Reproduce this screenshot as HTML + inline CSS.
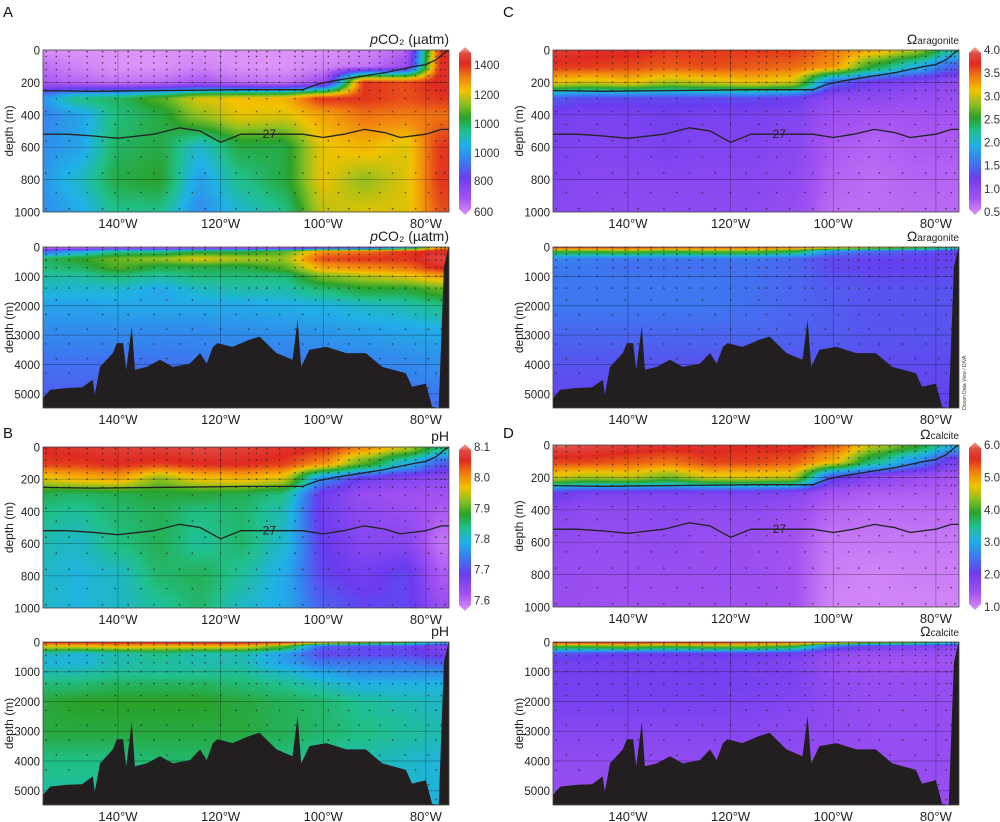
<!DOCTYPE html>
<html><head><meta charset="utf-8"><style>
html,body{margin:0;padding:0;background:#fff;}
#wrap{position:relative;width:1000px;height:822px;overflow:hidden;}
#wrap canvas{position:absolute;}
svg{position:absolute;left:0;top:0;display:block;font-family:"Liberation Sans",sans-serif;}
</style></head><body>
<div id="wrap">
<svg id="fig" width="1000" height="822" viewBox="0 0 1000 822" xmlns="http://www.w3.org/2000/svg"></svg>
</div>
<script>
// ---------- data ----------
const lons=[155,148,140,132,124,116,108,100,92,84,77];
const topDepths=[0,100,200,300,400,600,800,1000];
const botDepths=[0,150,400,700,1000,1500,2000,3000,4000,5500];

const aTop=[
[600,600,600,600,600,600,600,600,620,660,1400],
[650,620,600,600,620,600,600,620,640,700,1420],
[680,660,640,650,680,650,640,700,1400,1380,1420],
[930,1050,1080,1150,1250,1270,1280,1400,1400,1380,1400],
[900,950,1060,1100,1200,1260,1250,1300,1350,1340,1350],
[920,950,1080,1100,1000,1100,1100,1260,1280,1250,1400],
[930,1000,1100,1120,950,1050,1100,1260,1200,1250,1400],
[920,960,1050,1050,920,1000,1050,1230,1250,1250,1380]];
const aBot=[
[620,600,600,600,600,600,600,650,700,900,1300],
[850,950,1050,1050,1100,1100,1150,1320,1350,1400,1420],
[1080,1120,1170,1200,1250,1220,1200,1380,1400,1400,1450],
[1060,1080,1150,1100,1100,1100,1150,1300,1330,1350,1420],
[1030,1030,1060,1030,1060,1060,1060,1180,1220,1250,1300],
[990,990,990,960,1000,1020,1020,1060,1100,1100,1150],
[950,950,960,960,960,960,970,980,1000,1020,1050],
[910,910,910,910,910,915,920,930,940,950,960],
[870,870,870,875,880,880,885,890,900,910,920],
[840,840,840,840,845,850,850,860,860,870,870]];
const bTop=[
[8.05,8.06,8.07,8.07,8.08,8.07,8.06,8.05,8.0,7.95,7.85],
[8.04,8.04,8.05,8.04,8.05,8.05,8.04,8.0,7.9,7.8,7.72],
[7.95,7.97,7.98,7.92,7.96,7.97,7.95,7.75,7.68,7.66,7.65],
[7.86,7.85,7.86,7.87,7.87,7.86,7.84,7.68,7.64,7.63,7.63],
[7.84,7.83,7.85,7.86,7.84,7.85,7.82,7.68,7.65,7.64,7.62],
[7.82,7.81,7.84,7.86,7.83,7.85,7.81,7.69,7.66,7.66,7.6],
[7.81,7.8,7.81,7.85,7.86,7.83,7.79,7.7,7.68,7.7,7.62],
[7.81,7.8,7.81,7.83,7.85,7.81,7.79,7.72,7.7,7.7,7.64]];
const bBot=[
[8.05,8.06,8.06,8.07,8.07,8.07,8.06,8.0,7.95,7.9,7.8],
[7.95,7.95,7.97,7.96,7.96,7.96,7.9,7.72,7.7,7.7,7.66],
[7.82,7.8,7.82,7.84,7.82,7.82,7.78,7.7,7.7,7.7,7.68],
[7.8,7.8,7.82,7.83,7.82,7.82,7.78,7.74,7.74,7.74,7.72],
[7.82,7.82,7.83,7.83,7.83,7.83,7.81,7.78,7.76,7.76,7.76],
[7.85,7.85,7.86,7.86,7.86,7.85,7.84,7.82,7.8,7.8,7.8],
[7.87,7.88,7.88,7.88,7.88,7.87,7.86,7.85,7.83,7.82,7.81],
[7.87,7.87,7.87,7.87,7.87,7.87,7.86,7.85,7.84,7.83,7.82],
[7.84,7.84,7.84,7.85,7.85,7.85,7.84,7.83,7.82,7.81,7.8],
[7.82,7.82,7.82,7.82,7.82,7.82,7.82,7.82,7.82,7.8,7.8]];
const cTop=[
[3.8,3.7,3.7,3.6,3.6,3.6,3.6,3.4,3.2,2.9,2.2],
[3.6,3.6,3.55,3.5,3.55,3.5,3.45,3.3,2.5,2.0,1.5],
[3.1,3.0,3.1,2.9,3.0,3.1,3.0,1.5,1.2,1.1,1.0],
[1.45,1.35,1.35,1.35,1.35,1.35,1.25,1.0,1.0,0.95,0.95],
[1.2,1.15,1.15,1.2,1.15,1.15,1.1,0.9,0.85,0.85,0.85],
[1.15,1.1,1.1,1.15,1.1,1.1,1.05,0.8,0.75,0.8,0.8],
[1.1,1.05,1.05,1.05,1.05,1.05,1.0,0.75,0.7,0.75,0.75],
[1.05,1.05,1.0,1.0,1.0,1.0,0.95,0.7,0.7,0.72,0.72]];
const cBot=[
[3.7,3.7,3.7,3.6,3.6,3.6,3.5,3.3,3.1,2.9,2.5],
[2.6,2.6,2.7,2.6,2.7,2.7,2.5,1.7,1.5,1.4,1.3],
[1.7,1.65,1.6,1.6,1.6,1.6,1.5,1.35,1.3,1.3,1.3],
[1.6,1.6,1.55,1.55,1.55,1.55,1.5,1.35,1.3,1.3,1.3],
[1.6,1.6,1.6,1.6,1.6,1.55,1.5,1.4,1.35,1.35,1.35],
[1.6,1.6,1.6,1.6,1.6,1.55,1.5,1.45,1.4,1.4,1.4],
[1.6,1.6,1.6,1.6,1.6,1.55,1.5,1.45,1.4,1.4,1.4],
[1.5,1.5,1.5,1.5,1.5,1.5,1.48,1.45,1.4,1.4,1.4],
[1.4,1.4,1.4,1.4,1.4,1.4,1.4,1.4,1.35,1.35,1.35],
[1.3,1.3,1.3,1.3,1.3,1.3,1.3,1.3,1.3,1.3,1.3]];
const dTop=[
[5.9,5.8,5.7,5.6,5.6,5.5,5.6,5.3,4.5,4.0,3.2],
[5.4,5.4,5.3,5.2,5.4,5.4,5.3,4.8,3.6,2.8,2.0],
[4.6,4.4,4.5,4.2,4.6,4.6,4.5,2.2,1.8,1.6,1.5],
[2.1,1.9,1.9,1.9,1.9,1.9,1.8,1.5,1.4,1.4,1.4],
[1.8,1.7,1.7,1.75,1.7,1.7,1.6,1.35,1.3,1.3,1.3],
[1.7,1.65,1.65,1.7,1.6,1.6,1.5,1.2,1.2,1.2,1.2],
[1.65,1.6,1.6,1.6,1.6,1.6,1.5,1.15,1.1,1.15,1.15],
[1.6,1.6,1.55,1.55,1.55,1.55,1.5,1.1,1.1,1.1,1.1]];
const dBot=[
[5.7,5.7,5.7,5.6,5.6,5.5,5.4,5.0,4.5,4.2,3.5],
[4.0,4.0,4.2,4.0,4.2,4.2,3.9,2.4,2.0,1.9,1.8],
[2.3,2.2,2.1,2.1,2.1,2.1,2.0,1.7,1.6,1.6,1.6],
[2.0,2.0,1.95,1.95,1.95,1.95,1.85,1.6,1.5,1.5,1.5],
[2.0,2.0,2.0,2.0,2.0,1.95,1.9,1.65,1.6,1.6,1.6],
[2.0,2.0,2.0,2.0,2.0,1.95,1.9,1.7,1.65,1.65,1.65],
[1.95,1.95,1.95,1.95,1.95,1.9,1.85,1.7,1.65,1.65,1.65],
[1.8,1.8,1.8,1.8,1.8,1.8,1.75,1.7,1.65,1.65,1.65],
[1.7,1.7,1.7,1.7,1.7,1.7,1.7,1.65,1.65,1.65,1.65],
[1.6,1.6,1.6,1.6,1.6,1.6,1.6,1.6,1.6,1.6,1.6]];

const bathyLons=[155.5,154.6,153.2,149.9,147,144.9,144.5,143.5,141,140.2,139,138.4,137.3,136.7,134.4,131.8,129.3,126,124,122.7,121.5,120.6,117.7,114.4,112.4,109.1,106,105,104.3,102.7,99.4,95.5,91.7,88.5,83.9,82.7,80,78.8,77.5,76.5,75.6,75];
const bathyDepths=[5140,5140,4860,4800,4780,4520,5030,4080,3610,3270,3270,4180,2700,4180,4080,3840,4080,3970,3610,3970,3400,3270,3400,3160,3050,3610,3840,2480,4080,3500,3400,3610,3610,4080,4300,4760,4650,5440,5480,680,0,0];
const iso27Lons=[156,150,145,140,133,128,124,120,116,113,108,104,100,96,92,88,85,80,77,74];
const iso27Depths=[520,520,530,545,520,480,500,570,520,520,520,520,540,520,490,510,540,520,490,490];
const iso26Lons=[156,145,130,115,104,101,98,95,92,88,85,82,80,78,76.5,75.5];
const iso26Depths=[250,255,250,245,245,210,190,175,160,140,120,100,90,60,20,0];
const stationLons=[154,152,149.5,146,143,140.5,138,135.5,133,130.5,128,125.5,123,120,117,114.5,113,111,108.5,105.5,104,101.5,99,97,95,93,91,89,86.5,84,82,79.5,78,77,76.3];
const topDotDepths=[10,40,80,120,160,200,250,300,380,460,560,660,760,880,980];
const botDotDepths=[20,100,250,450,700,1000,1400,1800,2300,2800,3300,3800,4300,4800,5300];

const aTicks=["1400","1200","1000","1000","800","600"];
const aTickFrac=[0.907,0.722,0.543,0.364,0.191,0];
const bTicks=[8.1,8.0,7.9,7.8,7.7,7.6];
const cTicks=[4.0,3.5,3.0,2.5,2.0,1.5,1.0,0.5];
const dTicks=[6.0,5.0,4.0,3.0,2.0,1.0];
const lonTicks=[140,120,100,80];
const topDepthTicks=[0,200,400,600,800,1000];
const botDepthTicks=[0,1000,2000,3000,4000,5000];

// ---------- helpers ----------
const NS="http://www.w3.org/2000/svg";
const svg=document.getElementById('fig');
const wrap=document.getElementById('wrap');
function mk(tag,attrs,parent){const e=document.createElementNS(NS,tag);for(const k in attrs)e.setAttribute(k,attrs[k]);(parent||svg).appendChild(e);return e;}
const cmapStops=[[0,"#dc92f8"],[0.1,"#a452f2"],[0.22,"#6a3cf0"],[0.32,"#3a7cf0"],[0.42,"#1fb2e6"],[0.5,"#20c08a"],[0.58,"#2aa22a"],[0.66,"#8cc020"],[0.74,"#f2c200"],[0.82,"#f28010"],[0.9,"#e02a20"],[0.96,"#e24a44"],[1,"#f2b294"]];
function hex(h){return [parseInt(h.substr(1,2),16),parseInt(h.substr(3,2),16),parseInt(h.substr(5,2),16)];}
const stopRGB=cmapStops.map(s=>[s[0],hex(s[1])]);
function cmapRGB(t){t=Math.max(0,Math.min(1,t));for(let i=1;i<stopRGB.length;i++){if(t<=stopRGB[i][0]){const a=stopRGB[i-1],b=stopRGB[i];const f=(t-a[0])/(b[0]-a[0]);return a[1].map((v,k)=>Math.round(v+(b[1][k]-v)*f));}}return stopRGB[stopRGB.length-1][1];}
const LON_W=154.6, LON_E=75.5;
function locate(arr,v,desc){
  const n=arr.length;
  if(desc){ if(v>=arr[0])return [0,0]; if(v<=arr[n-1])return [n-2,1];
    for(let i=0;i<n-1;i++){if(v<=arr[i]&&v>=arr[i+1])return [i,(arr[i]-v)/(arr[i]-arr[i+1])];}}
  else { if(v<=arr[0])return [0,0]; if(v>=arr[n-1])return [n-2,1];
    for(let i=0;i<n-1;i++){if(v>=arr[i]&&v<=arr[i+1])return [i,(v-arr[i])/(arr[i+1]-arr[i])];}}
  return [0,0];
}
const sm=f=>f*f*(3-2*f)*0.5+f*0.5;

function drawPanel(p){
  const xS=lon=>p.x0+(LON_W-lon)/(LON_W-LON_E)*p.w;
  const yS=d=>p.y0+d/p.dmax*p.h;
  const cv=document.createElement('canvas');
  cv.width=p.w;cv.height=p.h;cv.style.left=p.x0+'px';cv.style.top=p.y0+'px';
  
  
  wrap.insertBefore(cv,svg);
  const ctx=cv.getContext('2d');const img=ctx.createImageData(p.w,p.h);
  const colIdx=[];for(let x=0;x<p.w;x++){colIdx.push(locate(lons,LON_W-(x+0.5)/p.w*(LON_W-LON_E),true));}
  for(let y=0;y<p.h;y++){
    const [j,fy0]=locate(p.depths,(y+0.5)/p.h*p.dmax,false);const fy=sm(fy0);
    for(let x=0;x<p.w;x++){
      const [i,fx0]=colIdx[x];const fx=sm(fx0);
      const v=(p.vals[j][i]*(1-fx)+p.vals[j][i+1]*fx)*(1-fy)+(p.vals[j+1][i]*(1-fx)+p.vals[j+1][i+1]*fx)*fy;
      const c=cmapRGB((v-p.vmin)/(p.vmax-p.vmin));const o=(y*p.w+x)*4;
      img.data[o]=c[0];img.data[o+1]=c[1];img.data[o+2]=c[2];img.data[o+3]=255;
    }
  }
  ctx.putImageData(img,0,0);

  const g=mk('g',{});  
  const defs=mk('defs',{},g);
  const cid='cp'+p.name;
  const cp=mk('clipPath',{id:cid},defs); mk('rect',{x:p.x0,y:p.y0,width:p.w,height:p.h},cp);
  const clipG=mk('g',{'clip-path':'url(#'+cid+')'},g);
  const gridT=p.bottom?botDepthTicks:topDepthTicks;
  gridT.forEach(d=>{const l=mk('line',{x1:p.x0,x2:p.x0+p.w,y1:yS(d),y2:yS(d),stroke:'rgba(0,0,0,0.35)','stroke-width':0.7},clipG);});
  lonTicks.forEach(L=>{const l=mk('line',{x1:xS(L),x2:xS(L),y1:p.y0,y2:p.y0+p.h,stroke:'rgba(0,0,0,0.35)','stroke-width':0.7},clipG);});
  const bz=lon=>{for(let k=1;k<bathyLons.length;k++){if(lon>=bathyLons[k]){const f=(bathyLons[k-1]-lon)/(bathyLons[k-1]-bathyLons[k]);return bathyDepths[k-1]+(bathyDepths[k]-bathyDepths[k-1])*f;}}return 0;};
  const dots=mk('g',{fill:'#222','fill-opacity':0.7},clipG);
  
  
  stationLons.forEach((L,si)=>{(p.bottom?botDotDepths:topDotDepths).forEach((d,k)=>{
    if((si+k)%2&&k>6)return;
    if(p.bottom&&d>bz(L)-100)return;
    mk('circle',{cx:xS(L),cy:yS(d),r:0.85},dots);});});
  if(!p.bottom){
    const path=(ls,ds)=>ls.map((L,k)=>(k?'L':'M')+xS(L).toFixed(1)+','+yS(ds[k]).toFixed(1)).join('');
    const i27=mk('path',{d:path(iso27Lons,iso27Depths),fill:'none',stroke:'#222','stroke-width':1.3},clipG);
    
    const i26=mk('path',{d:path(iso26Lons,iso26Depths),fill:'none',stroke:'#222','stroke-width':1.3},clipG);
    
    const t27=mk('text',{x:xS(110.5),y:yS(520)+4,'font-size':12,fill:'#222','text-anchor':'middle'},clipG);t27.textContent='27';
    
  } else {
    let d='M'+xS(160)+','+(p.y0+p.h+5);
    bathyLons.forEach((L,k)=>{d+='L'+xS(L).toFixed(1)+','+Math.min(yS(bathyDepths[k]),p.y0+p.h+5).toFixed(1);});
    d+='L'+xS(70)+','+p.y0+'L'+xS(70)+','+(p.y0+p.h+5)+'Z';
    const b=mk('path',{d:d,fill:'#231f20'},clipG);
    
  }
  const fr=mk('rect',{x:p.x0,y:p.y0,width:p.w,height:p.h,fill:'none',stroke:'#444','stroke-width':0.8},g);
  
  gridT.forEach(d=>{const t=mk('text',{x:p.x0-3,y:yS(d)+4.5,'font-size':11.5,'text-anchor':'end',fill:'#222'},g);t.textContent=d;
    });
  lonTicks.forEach(L=>{const t=mk('text',{x:xS(L),y:p.y0+p.h+16,'font-size':13,'text-anchor':'middle',fill:'#222'},g);t.textContent=L+'°W';
    });
  const yl=mk('text',{x:0,y:0,'font-size':12,'text-anchor':'middle',fill:'#222',transform:'translate('+(p.x0-30)+','+(p.y0+p.h/2)+') rotate(-90)'},g);
  yl.textContent='depth (m)';
  const tt=mk('text',{x:p.x0+p.w,y:p.y0-6,'text-anchor':'end',fill:'#222'},g);
  
  p.title.forEach(s=>{const ts=mk('tspan',{'font-size':s[1],'font-style':s[2]||'normal'},tt);ts.textContent=s[0];});
}

let cbn=0;
function drawColorbar(c){
  const g=mk('g',{});  
  const gid='cbg'+(++cbn);
  const lg=mk('linearGradient',{id:gid,x1:0,y1:1,x2:0,y2:0},mk('defs',{},g));
  cmapStops.forEach(s=>mk('stop',{offset:s[0],'stop-color':s[1]},lg));
  mk('path',{d:'M'+c.x+','+(c.y0+3)+' L'+(c.x+c.w/2)+','+(c.y0-3)+' L'+(c.x+c.w)+','+(c.y0+3)+' V'+(c.y0+c.h-3)+' L'+(c.x+c.w/2)+','+(c.y0+c.h+3)+' L'+c.x+','+(c.y0+c.h-3)+'Z',fill:'url(#'+gid+')'},g);
  c.labels.forEach((lab,k)=>{const t=mk('text',{x:c.x+c.w+3,y:c.y0+c.h-c.fracs[k]*c.h+4,'font-size':11.5,fill:'#333'},g);t.textContent=lab;
    });
}

const pco2=[["p",14,"italic"],["CO₂ (µatm)",14]];
drawPanel({name:'panel-a-upper',x0:43,y0:50,w:406,h:162,dmax:1000,depths:topDepths,vals:aTop,vmin:600,vmax:1500,title:pco2});
drawPanel({name:'panel-a-full-depth',x0:43,y0:247,w:406,h:161,dmax:5480,depths:botDepths,vals:aBot,vmin:600,vmax:1500,bottom:true,title:pco2});
drawPanel({name:'panel-b-upper',x0:43,y0:447,w:406,h:161,dmax:1000,depths:topDepths,vals:bTop,vmin:7.575,vmax:8.1,title:[["pH",14]]});
drawPanel({name:'panel-b-full-depth',x0:43,y0:642,w:406,h:163,dmax:5480,depths:botDepths,vals:bBot,vmin:7.575,vmax:8.1,bottom:true,title:[["pH",14]]});
const arag=[["Ω",14],["aragonite",10]], calc=[["Ω",14],["calcite",10]];
drawPanel({name:'panel-c-upper',x0:553,y0:50,w:406,h:162,dmax:1000,depths:topDepths,vals:cTop,vmin:0.5,vmax:4.0,title:arag});
drawPanel({name:'panel-c-full-depth',x0:553,y0:247,w:406,h:161,dmax:5480,depths:botDepths,vals:cBot,vmin:0.5,vmax:4.0,bottom:true,title:arag});
drawPanel({name:'panel-d-upper',x0:553,y0:445,w:406,h:162,dmax:1000,depths:topDepths,vals:dTop,vmin:1.0,vmax:6.0,title:calc});
drawPanel({name:'panel-d-full-depth',x0:553,y0:642,w:406,h:163,dmax:5480,depths:botDepths,vals:dBot,vmin:1.0,vmax:6.0,bottom:true,title:calc});

drawColorbar({name:'colorbar-pco2',x:459,y0:50,w:12,h:162,labels:aTicks,fracs:aTickFrac});
drawColorbar({name:'colorbar-ph',x:459,y0:447,w:12,h:161,labels:bTicks.map(v=>v.toFixed(1)),fracs:bTicks.map(v=>(v-7.575)/0.525)});
drawColorbar({name:'colorbar-aragonite',x:969,y0:50,w:12,h:162,labels:cTicks.map(v=>v.toFixed(1)),fracs:cTicks.map(v=>(v-0.5)/3.5)});
drawColorbar({name:'colorbar-calcite',x:969,y0:445,w:12,h:162,labels:dTicks.map(v=>v.toFixed(1)),fracs:dTicks.map(v=>(v-1)/5)});

[["A",3,17],["B",3,438],["C",503,17],["D",503,438]].forEach(a=>{const t=mk('text',{x:a[1],y:a[2],'font-size':15,fill:'#111'});t.textContent=a[0];
  });
const odv=mk('text',{x:0,y:0,'font-size':5,fill:'#333',transform:'translate(966,410) rotate(-90)'});odv.textContent='Ocean Data View / DIVA';

</script>
</body></html>
